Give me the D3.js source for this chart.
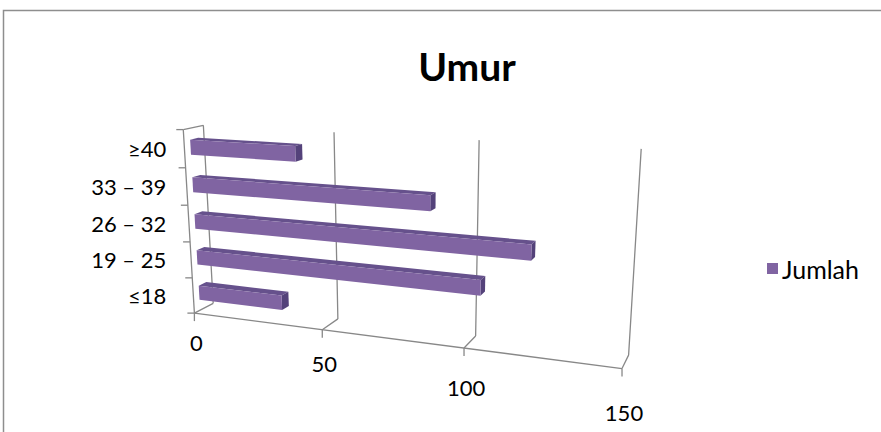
<!DOCTYPE html>
<html>
<head>
<meta charset="utf-8">
<script src="https://cdn.jsdelivr.net/npm/d3@7"></script>
<style>
  html, body { margin: 0; padding: 0; background: #ffffff; }
  svg { display: block; }
</style>
</head>
<body>
<svg id="chart" width="881" height="432"></svg>
<script>
// ---- data ----
const chartTitle = "Umur";
const seriesName = "Jumlah";
const categories = ["≤18", "19 – 25", "26 – 32", "33 – 39", "≥40"];
const jumlah = [33, 104, 120, 87, 40];
const valueTicks = [0, 50, 100, 150];

// ---- 3D frame: screen position of the plot box corners (x: value, y: height, z: depth) ----
const frameAnchors = [
  { w: [0, 0, 0], s: [194, 313] },
  { w: [1, 0, 0], s: [622, 369] },
  { w: [0, 1, 0], s: [183, 130] },
  { w: [0, 0, 1], s: [213, 303] },
  { w: [1, 0, 1], s: [628, 356] },
  { w: [0, 1, 1], s: [203, 126] },
  { w: [1, 1, 1], s: [641, 148] },
  { w: [1/3, 0, 0], s: [323, 330] },
  { w: [2/3, 0, 0], s: [464, 347] },
  { w: [1/3, 0, 1], s: [338, 318] },
  { w: [2/3, 0, 1], s: [476, 337] },
  { w: [1/3, 1, 1], s: [335, 132] },
  { w: [2/3, 1, 1], s: [479, 140] }
];

// Fit a 3x4 perspective camera (last entry fixed to 1) by linear least squares.
function fitCamera(anchors) {
  const A = [], b = [];
  anchors.forEach(({ w: [X, Y, Z], s: [u, v] }) => {
    A.push([X, Y, Z, 1, 0, 0, 0, 0, -u * X, -u * Y, -u * Z]); b.push(u);
    A.push([0, 0, 0, 0, X, Y, Z, 1, -v * X, -v * Y, -v * Z]); b.push(v);
  });
  const n = 11;
  const M = Array.from({ length: n }, () => new Array(n + 1).fill(0));
  for (let r = 0; r < A.length; r++) {
    for (let i = 0; i < n; i++) {
      for (let j = 0; j < n; j++) M[i][j] += A[r][i] * A[r][j];
      M[i][n] += A[r][i] * b[r];
    }
  }
  for (let c = 0; c < n; c++) {
    let p = c;
    for (let r = c + 1; r < n; r++) if (Math.abs(M[r][c]) > Math.abs(M[p][c])) p = r;
    [M[c], M[p]] = [M[p], M[c]];
    for (let r = 0; r < n; r++) {
      if (r === c) continue;
      const f = M[r][c] / M[c][c];
      for (let k = c; k <= n; k++) M[r][k] -= f * M[c][k];
    }
  }
  return M.map((row, i) => row[n] / row[i]);
}
const cam = fitCamera(frameAnchors);
function project(X, Y, Z) {
  const w = cam[8] * X + cam[9] * Y + cam[10] * Z + 1;
  return [
    (cam[0] * X + cam[1] * Y + cam[2] * Z + cam[3]) / w,
    (cam[4] * X + cam[5] * Y + cam[6] * Z + cam[7]) / w
  ];
}

// ---- scales (world units 0..1) ----
const x = d3.scaleLinear().domain([0, 150]).range([0, 1]);
const y = d3.scaleBand().domain(categories).range([0, 1]).paddingInner(0.6).paddingOuter(0.3);
const step = y.step();
const barDepth = [0.3, 0.7];
// gap between a value tick and its label grows toward the near (right) end
const valueLabelGap = d3.scaleLinear().domain([0, 150]).range([29, 44]);

const svg = d3.select("#chart");
const font = "Lato, 'Open Sans', sans-serif";
const gridColor = "#888888";
const barFront = "#8064A2", barTop = "#66518C", barEnd = "#54427A";

// outer chart border
svg.append("rect")
  .attr("x", 3.5).attr("y", 10.5).attr("width", 900).attr("height", 440)
  .attr("fill", "none").attr("stroke", "#8e8e8e").attr("stroke-width", 1.5);

const line3d = (a, b) => {
  const p = project(...a), q = project(...b);
  return `M${p[0]},${p[1]}L${q[0]},${q[1]}`;
};

const grid = svg.append("g")
  .attr("fill", "none").attr("stroke", gridColor).attr("stroke-width", 1.3);

// left wall outline
grid.append("path").attr("d",
  line3d([0, 0, 0], [0, 1, 0]) + line3d([0, 1, 0], [0, 1, 1]) +
  line3d([0, 1, 1], [0, 0, 1]) + line3d([0, 0, 1], [0, 0, 0]));

// back-wall gridlines and floor depth lines for each value tick
valueTicks.filter(t => t > 0).forEach(t => {
  grid.append("path").attr("d", line3d([x(t), 0, 1], [x(t), 1, 1]) + line3d([x(t), 0, 0], [x(t), 0, 1]));
});

// floor front edge (value axis)
grid.append("path").attr("d", line3d([0, 0, 0], [1, 0, 0]));

// value-axis ticks
valueTicks.forEach(t => {
  const p = project(x(t), 0, 0);
  grid.append("path").attr("d", `M${p[0]},${p[1]}v8`);
});

// category-axis ticks at band boundaries
d3.range(categories.length + 1).forEach(i => {
  const p = project(0, i * step, 0);
  grid.append("path").attr("d", `M${p[0]},${p[1]}h-7`);
});

// ---- bars ----
const poly = pts => "M" + pts.map(p => project(...p).join(",")).join("L") + "Z";
const bars = svg.append("g");
categories.forEach((c, i) => {
  const x0 = 0, x1 = x(jumlah[i]);
  const y0 = y(c), y1 = y(c) + y.bandwidth();
  const [z0, z1] = barDepth;
  const g = bars.append("g");
  g.append("path").attr("fill", barTop)
    .attr("d", poly([[x0, y1, z0], [x1, y1, z0], [x1, y1, z1], [x0, y1, z1]]));
  g.append("path").attr("fill", barEnd)
    .attr("d", poly([[x1, y0, z0], [x1, y0, z1], [x1, y1, z1], [x1, y1, z0]]));
  g.append("path").attr("fill", barFront)
    .attr("d", poly([[x0, y0, z0], [x1, y0, z0], [x1, y1, z0], [x0, y1, z0]]));
});

// ---- labels ----
const labels = svg.append("g").attr("font-family", font).attr("fill", "#000");

// category labels share one right edge, left of the axis top
const catLabelRight = project(0, 1, 0)[0] - 17;
categories.forEach((c, i) => {
  const p = project(0, (i + 0.5) * step, 0);
  labels.append("text")
    .attr("x", catLabelRight).attr("y", p[1])
    .attr("text-anchor", "end").attr("dominant-baseline", "central")
    .attr("font-size", 22).text(c);
});

valueTicks.forEach(t => {
  const p = project(x(t), 0, 0);
  labels.append("text")
    .attr("x", p[0] + 2).attr("y", p[1] + valueLabelGap(t))
    .attr("text-anchor", "middle").attr("dominant-baseline", "central")
    .attr("font-size", 22).text(t);
});

labels.append("text")
  .attr("x", 467).attr("y", 81)
  .attr("text-anchor", "middle")
  .attr("font-size", 39).attr("font-weight", "bold").text(chartTitle);

// legend
const legend = svg.append("g").attr("transform", "translate(767,263)");
legend.append("rect").attr("width", 11).attr("height", 11).attr("fill", barFront);
legend.append("text").attr("x", 15).attr("y", 6)
  .attr("dominant-baseline", "central")
  .attr("font-family", font).attr("font-size", 25).text(seriesName);
</script>
</body>
</html>
